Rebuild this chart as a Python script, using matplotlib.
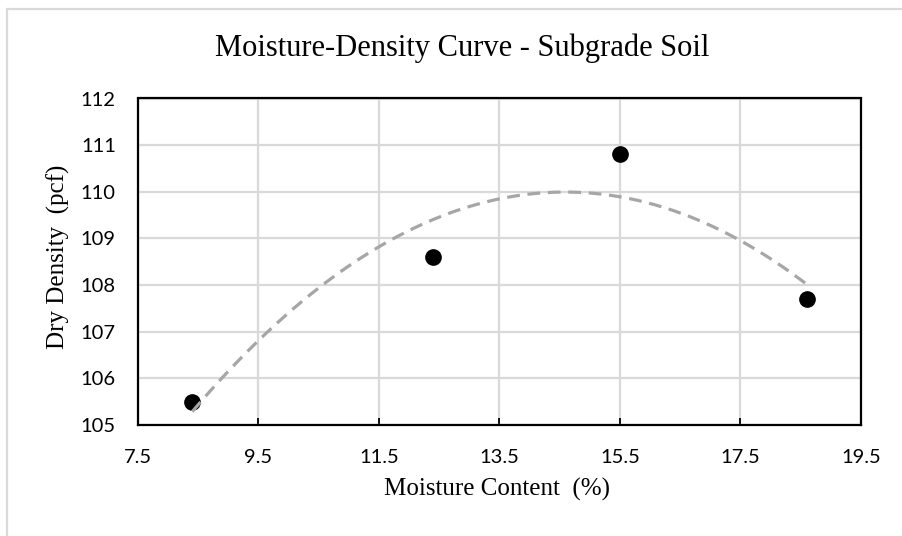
import numpy as np
import matplotlib
matplotlib.use("Agg")
import matplotlib.pyplot as plt
from matplotlib.patches import Rectangle

# Data
moisture = [8.4, 12.4, 15.5, 18.6]
dry_density = [105.5, 108.6, 110.8, 107.7]
x_ticks = [7.5, 9.5, 11.5, 13.5, 15.5, 17.5, 19.5]
y_ticks = [105, 106, 107, 108, 109, 110, 111, 112]
title = "Moisture-Density Curve - Subgrade Soil"
x_label = "Moisture Content  (%)"
y_label = "Dry Density  (pcf)"

W, H = 902, 536
fig = plt.figure(figsize=(W/100, H/100), dpi=100)
L, R, T, B = 138, 861, 98.5, 425
ax = fig.add_axes([L/W, 1-B/H, (R-L)/W, (B-T)/H])

# outer chart border (light gray), right/bottom edges outside the image
fig.patches.append(Rectangle((7.5/W, -0.2), 1.2, 1.2 - 9/H,
                             transform=fig.transFigure, fill=False,
                             edgecolor="#d9d9d9", linewidth=1.6, clip_on=False))

# polynomial (order 2) trendline
coef = np.polyfit(moisture, dry_density, 2)
xs = np.linspace(min(moisture), max(moisture), 200)
ys = np.polyval(coef, xs)

ax.plot(moisture, dry_density, linestyle="none", marker="o", markersize=11,
        color="black", zorder=3)
ax.plot(xs, ys, color="#a6a6a6", linewidth=2.3, dashes=(4, 2.4),
        dash_capstyle="butt", zorder=4)

ax.set_xlim(7.5, 19.5)
ax.set_ylim(105, 112)
ax.set_xticks(x_ticks)
ax.set_xticklabels([f"{t:.1f}" for t in x_ticks])
ax.set_yticks(y_ticks)
ax.set_yticklabels([str(t) for t in y_ticks])

ax.grid(True, color="#d9d9d9", linewidth=1.6)
ax.set_axisbelow(True)
for s in ax.spines.values():
    s.set_color("black")
    s.set_linewidth(1.6)

tick_font = "Lato"
for lab in ax.get_xticklabels() + ax.get_yticklabels():
    lab.set_fontfamily(tick_font)
    lab.set_fontsize(14.5)
ax.tick_params(axis="x", direction="in", length=5, width=1.3, pad=17, colors="black")
ax.tick_params(axis="y", length=0, pad=16, colors="black")

fig.text(0.512, 1-56/H, title, ha="center", va="baseline",
         fontfamily="Liberation Serif", fontsize=22)
ax.set_xlabel(x_label, fontfamily="Liberation Serif", fontsize=18)
ax.set_ylabel(y_label, fontfamily="Liberation Serif", fontsize=18)
ax.xaxis.set_label_coords(0.497, (B-478)/(B-T))
ax.yaxis.set_label_coords((70-L)/(R-L), 0.514)

fig.savefig("out.png", dpi=100)
